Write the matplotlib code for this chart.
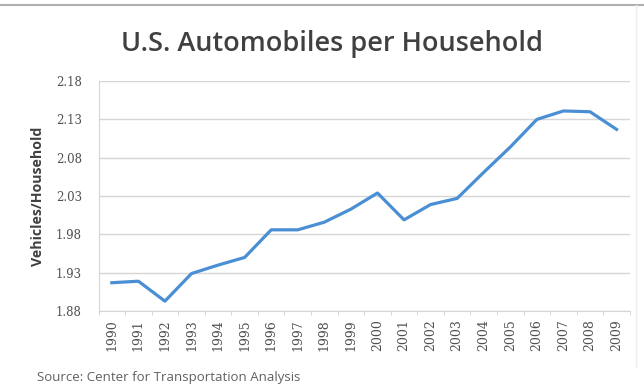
import numpy as np
import matplotlib
matplotlib.use('Agg')
import matplotlib.pyplot as plt
from matplotlib.lines import Line2D

years = [str(y) for y in range(1990, 2010)]
vehicles = [1.917, 1.919, 1.893, 1.929, 1.940, 1.950, 1.986, 1.986, 1.996, 2.013,
            2.034, 1.999, 2.019, 2.027, 2.061, 2.094, 2.130, 2.141, 2.140, 2.117]
yticks = [1.88, 1.93, 1.98, 2.03, 2.08, 2.13, 2.18]

fig = plt.figure(figsize=(6.44, 3.86), dpi=100)
ax = fig.add_axes([0.153, 0.194, 0.825, 0.596])

x = np.arange(len(years))
ax.plot(x, vehicles, color='#4a8fd4', lw=2.3, solid_joinstyle='round')

ax.set_xlim(-0.5, len(years) - 0.5)
ax.set_ylim(yticks[0], yticks[-1])
ax.set_yticks(yticks)
ax.set_yticklabels(['%.2f' % v for v in yticks], family='DejaVu Serif',
                   fontsize=8.5, color='#505050')
ax.set_xticks(x)
ax.set_xticklabels(years, rotation=90, family='DejaVu Serif',
                   fontsize=9, color='#505050')
ax.set_xticks(np.arange(-0.5, len(years), 1), minor=True)
ax.tick_params(axis='x', which='major', length=0, pad=6)
ax.tick_params(axis='x', which='minor', length=3, color='#d0d0d0')
ax.tick_params(axis='y', length=0, pad=12)

ax.grid(axis='y', color='#d6d6d6', lw=1.0)
ax.set_axisbelow(True)
for side in ('top', 'right'):
    ax.spines[side].set_visible(False)
ax.spines['left'].set_color('#d6d6d6')
ax.spines['bottom'].set_color('#d6d6d6')

ax.set_ylabel('Vehicles/Household', family='Open Sans', fontweight='bold',
              fontsize=10.2, color='#404040', labelpad=8)

fig.text(0.515, 0.886, 'U.S. Automobiles per Household', ha='center', va='center',
         family='Open Sans', fontweight='semibold', fontsize=19.5, color='#404040')
fig.text(0.058, 0.022, 'Source: Center for Transportation Analysis', ha='left',
         va='center', family='Open Sans', fontsize=9.5, color='#606060')

# chart frame edges
fig.add_artist(Line2D([0, 1], [0.988, 0.988], color='#b0b0b0', lw=1.5))
fig.add_artist(Line2D([0.988, 0.988], [0.05, 0.988], color='#ececec', lw=1.0))

fig.savefig('out.png', dpi=100)
